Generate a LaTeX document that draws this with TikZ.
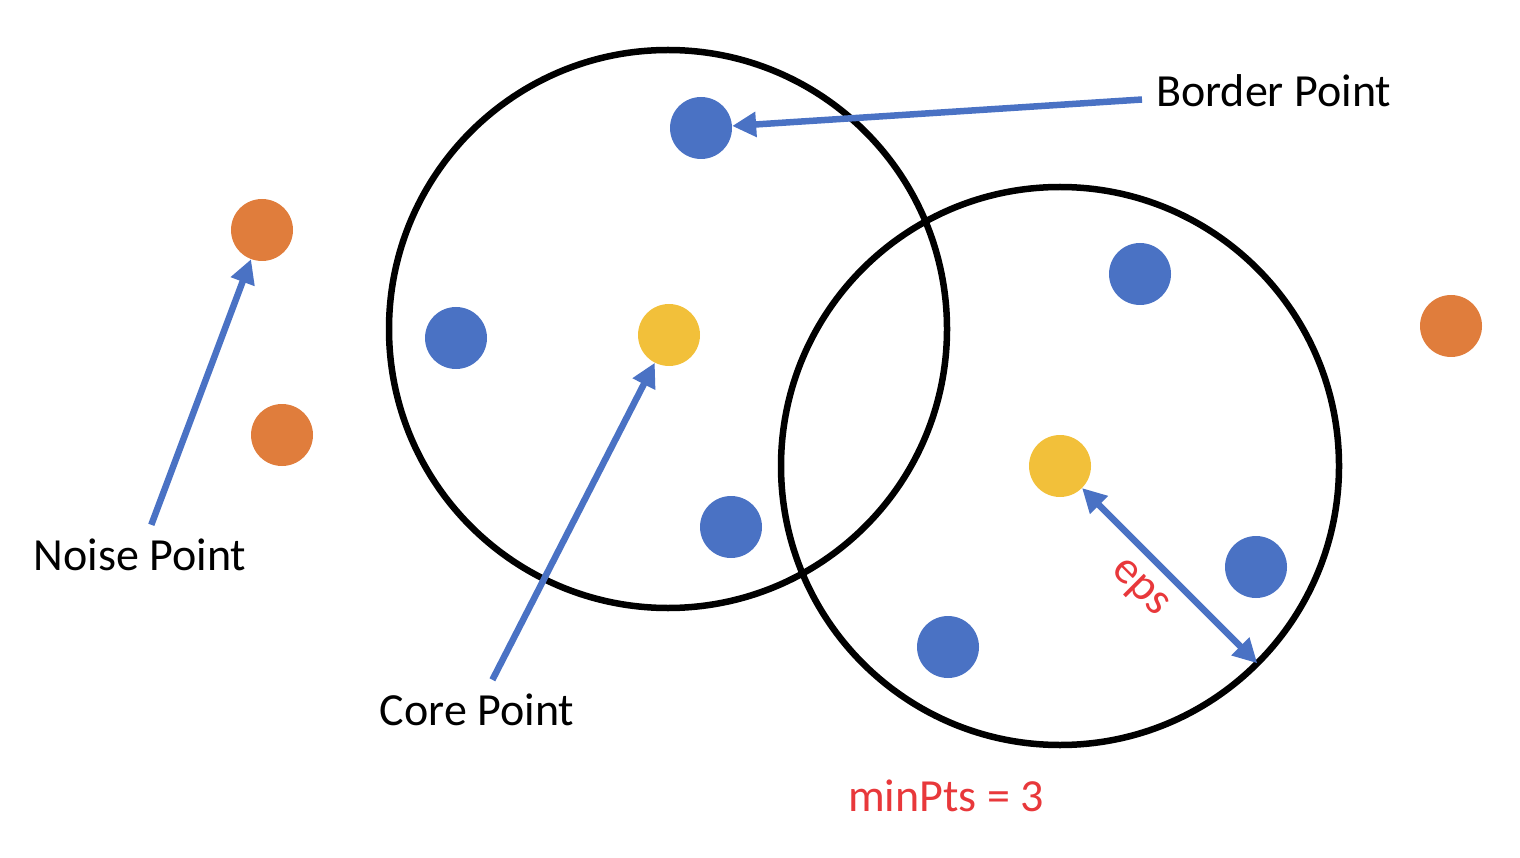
\documentclass[tikz,border=0pt]{standalone}
\usepackage{fontspec}
\setmainfont{Carlito}
\usepackage{tikz}
\usetikzlibrary{arrows.meta,positioning}
\definecolor{dotblue}{HTML}{4A72C4}
\definecolor{dotorange}{HTML}{E07D3C}
\definecolor{dotyellow}{HTML}{F2C03A}
\definecolor{epsred}{HTML}{E8383B}
\tikzstyle{spot}=[circle, inner sep=0pt, minimum size=62pt]
\tikzstyle{border}=[spot, fill=dotblue]
\tikzstyle{core}=[spot, fill=dotyellow]
\tikzstyle{noise}=[spot, fill=dotorange]
\tikzstyle{reach}=[draw, circle, line width=6.5pt, inner sep=0pt, outer sep=0pt,
  minimum size=558pt]
\tikzstyle{texto}=[font=\fontsize{46}{55}\selectfont, inner sep=14pt]
\tikzstyle{line}=[draw, line width=6.5pt, color=dotblue,
  -{Triangle[length=24pt,width=24pt]}]
\tikzstyle{dual}=[line, {Triangle[length=24pt,width=24pt]}-{Triangle[length=24pt,width=24pt]}]
\newcommand{\punkt}[2]{node (p#1)[#2]{}}

\begin{document}
\begin{tikzpicture}[x=1pt,y=-1pt]
  \useasboundingbox (0,0) rectangle (1520,858);

  % Draw the two eps neighbourhoods
  \node (c1)[reach] at (668,329) {};
  \node (c2)[reach] at (1060,466) {};

  % Draw the points
  \path (701,128) \punkt{1}{border};
  \path (456,338) \punkt{2}{border};
  \path (731,527) \punkt{3}{border};
  \path (1140,274) \punkt{4}{border};
  \path (1256,567) \punkt{5}{border};
  \path (948,647) \punkt{6}{border};
  \path (669,335) \punkt{7}{core};
  \path (1060,466) \punkt{8}{core};
  \path (262,230) \punkt{9}{noise};
  \path (282,435) \punkt{10}{noise};
  \path (1451,326) \punkt{11}{noise};

  % Labels
  \node (lborder)[texto, anchor=west] at (1142,91) {Border Point};
  \node (lnoise)[texto] at (140,555) {Noise Point};
  \node (lcore)[texto] at (477,710) {Core Point};
  \node (lmin)[texto, text=epsred] at (946,796) {minPts = 3};

  % Draw arrows between elements
  \path [line] (lborder) -- (p1);
  \path [line] (lnoise) -- (p9);
  \path [line] (lcore) -- (p7);
  \path [dual] (p8) -- node [texto, inner sep=3pt, text=epsred, sloped, below=10pt, pos=0.45] {eps} (c2.-45);

\end{tikzpicture}
\end{document}
